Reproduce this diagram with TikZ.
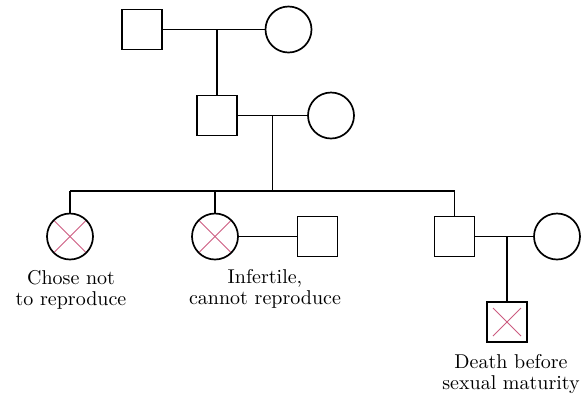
\documentclass[tikz,border=0pt]{standalone}
\definecolor{CrossRed}{HTML}{CC5C80}
\usepackage{tikz}
\usetikzlibrary{calc}

\begin{document}
\begin{tikzpicture}[
  x=0.5pt, y=-0.5pt,
  line width=0.85pt,
  male/.style={
    rectangle, draw, minimum size=20pt, inner sep=0pt
  },
  female/.style={
    circle, draw, minimum size=23pt, inner sep=0pt
  },
  crossed/.style={
    path picture={
      \draw[CrossRed, line width=0.5pt]
        ([shift={(3pt,-3pt)}]path picture bounding box.north west)
        -- ([shift={(-3pt,3pt)}]path picture bounding box.south east);
      \draw[CrossRed, line width=0.5pt]
        ([shift={(-3pt,-3pt)}]path picture bounding box.north east)
        -- ([shift={(3pt,3pt)}]path picture bounding box.south west);
    }
  },
  note/.style={
    align=center, font=\fontsize{10}{10.5}\selectfont
  }
]
  \useasboundingbox (0,0) rectangle (582,403);

  % Grandparents
  \node[male]   (gf) at (142,29.5)  {};
  \node[female] (gm) at (288.5,29.5) {};

  % Parents
  \node[male]   (fa) at (217,115.5) {};
  \node[female] (mo) at (331,115.5) {};

  % Children
  \node[female, crossed] (ch1) at (70,236.5) {};
  \node[female, crossed] (ch2) at (215,236.5) {};
  \node[male]            (sp2) at (317.5,236.5) {};
  \node[male]            (ch3) at (454.5,236.5) {};
  \node[female]          (sp3) at (557,236.5) {};

  % Grandchild
  \node[male, crossed] (gc) at (507,322) {};

  % Marriage lines and descent
  \coordinate (u1) at (gf.east -| fa.north);
  \draw (gf.east) -- (gm.west);
  \draw (u1) -- (fa.north);

  \coordinate (u2) at ($(fa.east)!0.5!(mo.west)$);
  \coordinate (sib) at ($(u2)+(0,75.5)$);
  \draw (fa.east) -- (mo.west);
  \draw (u2) -- (sib);

  % Sibship line
  \draw (ch1.north |- sib) -- (ch3.north |- sib);
  \draw (ch1.north |- sib) -- (ch1.north);
  \draw (ch2.north |- sib) -- (ch2.north);
  \draw (ch3.north |- sib) -- (ch3.north);

  \draw (ch2.east) -- (sp2.west);

  \coordinate (u3) at (ch3.east -| gc.north);
  \draw (ch3.east) -- (sp3.west);
  \draw (u3) -- (gc.north);

  % Labels
  \node[note] (l1) at (71,290) {Chose not\\to reproduce};
  \node[note] (l2) at (265,289) {Infertile,\\cannot reproduce};
  \node[note] (l3) at (511,374) {Death before\\sexual maturity};
\end{tikzpicture}
\end{document}
